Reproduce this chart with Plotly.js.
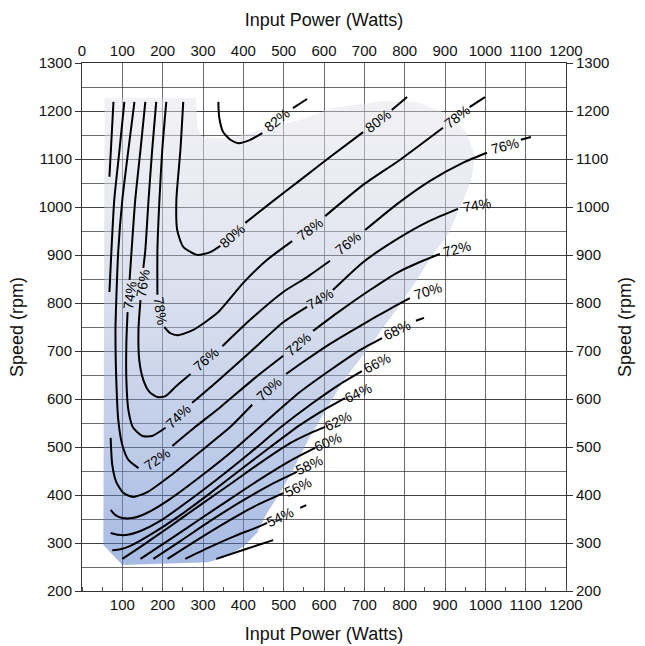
<!DOCTYPE html>
<html><head><meta charset="utf-8">
<script src="https://cdn.plot.ly/plotly-3.0.1.min.js"></script>
<style>html,body{margin:0;padding:0;background:#fff}#chart{width:645px;height:646px}</style>
</head><body><div id="chart"></div>
<script>
// Tick labels
const xTicksTop = [0,100,200,300,400,500,600,700,800,900,1000,1100,1200];
const xTicksBottom = [100,200,300,400,500,600,700,800,900,1000,1100,1200];
const yTicks = [200,300,400,500,600,700,800,900,1000,1100,1200,1300];

// Shaded operating region (Watts, rpm)
const shadeX = [56,283,286,296,360,447,541,622,746,830,912,952,974,966,942,907,867,830,788,746,707,647,598,561,523,491,459,434,400,350,311,100,53];
const shadeY = [1227,1227,1167,1146,1142,1160,1181,1206,1221,1219,1192,1156,1108,1060,1008,942,898,848,796,748,702,637,567,515,452,404,363,321,292,269,260,254,296];

// Efficiency contour lines (Watts, rpm); null = gap for a label
const c82X = [338,340,350,368,387,417,447,null,523,558];
const c82Y = [1219,1188,1156,1140,1133,1140,1154,null,1206,1225];
const c80X = [251,244,234,236,251,286,318,343,null,405,467,541,615,697,null,768,806];
const c80Y = [1219,1119,1015,952,917,900,906,919,null,967,1008,1056,1104,1156,null,1202,1229];
const c78X = [209,199,192,187,187,null,204,219,238,276,335,400,459,521,null,603,697,788,895,null,961,999];
const c78Y = [1219,1119,1015,910,817,null,750,737,733,744,779,842,890,929,null,981,1046,1098,1165,null,1208,1229];
const c76X = [184,174,165,157,152,null,145,140,142,152,167,187,207,234,269,null,348,417,499,558,615,null,702,781,862,944,1004,null,1088,1113];
const c76Y = [1219,1119,1015,910,873,null,806,744,681,640,615,604,606,627,652,null,710,765,823,854,888,null,952,1006,1054,1092,1113,null,1140,1146];
const c74X = [157,145,132,123,118,null,113,110,110,115,127,150,174,207,null,273,330,417,499,558,null,622,697,781,862,932];
const c74Y = [1219,1119,1015,910,848,null,781,717,640,577,540,523,523,540,null,592,633,698,760,792,null,827,885,933,971,996];
const c72X = [130,115,100,90,85,83,85,90,100,115,140,null,224,281,343,429,499,null,573,632,714,781,845,887];
const c72Y = [1219,1119,1015,910,806,744,640,556,504,473,456,null,502,542,583,644,690,null,742,779,827,863,888,902];
const c70X = [105,93,80,73,68,null,71,75,85,103,127,162,219,293,368,422,null,506,541,615,689,764,813];
const c70Y = [1219,1119,1015,910,823,null,519,463,427,404,396,406,440,490,542,588,null,652,673,715,752,788,810];
const c68X = [78,73,68,null,71,83,100,125,162,219,293,368,429,491,541,615,689,744,null,828,848];
const c68Y = [1219,1140,1063,null,369,358,352,352,363,392,438,488,533,579,615,660,702,727,null,763,769];
const c66X = [71,90,113,145,194,268,343,417,491,566,640,694];
const c66Y = [321,317,317,325,346,390,438,488,540,588,631,658];
const c64X = [75,95,120,177,244,318,392,467,541,603,652];
const c64Y = [285,287,294,321,358,404,452,500,546,579,602];
const c62X = [100,145,219,293,368,442,516,566,603];
const c62Y = [267,292,335,379,423,467,508,529,542];
const c60X = [145,219,293,368,442,516,578];
const c60Y = [267,308,350,392,433,471,498];
const c58X = [177,244,318,392,467,533];
const c58Y = [267,304,346,385,421,448];
const c56X = [212,281,355,429,499];
const c56Y = [267,304,342,377,404];
const c54X = [256,318,380,429,459,null,541,556];
const c54Y = [267,292,315,331,342,null,373,379];
const c52X = [333,405,474];
const c52Y = [267,287,306];

// Contour labels
const labelText = ['82%','80%','80%','78%','78%','78%','76%','76%','76%','76%','74%','74%','74%','74%','72%','72%','72%','70%','70%','68%','66%','64%','62%','60%','58%','56%','54%'];
const labelX = [484,372,734,194,566,929,150,308,660,1048,118,239,590,979,187,536,929,464,858,781,731,684,635,610,563,536,491];
const labelY = [1181,940,1179,783,954,1188,840,683,925,1127,815,565,808,1004,475,715,913,621,825,744,675,613,554,510,463,417,354];
const labelAngle = [-39,-42,-37,82,-37,-38,-82,-41,-38,-15,-82,-43,-30,-10,-35,-40,-15,-42,-17,-25,-27,-25,-25,-22,-25,-25,-25];

const contours = [[c82X,c82Y],[c80X,c80Y],[c78X,c78Y],[c76X,c76Y],[c74X,c74Y],[c72X,c72Y],[c70X,c70Y],[c68X,c68Y],[c66X,c66Y],[c64X,c64Y],[c62X,c62Y],[c60X,c60Y],[c58X,c58Y],[c56X,c56Y],[c54X,c54Y],[c52X,c52Y]];

const traces = [];
traces.push({
  x: shadeX, y: shadeY, type:'scatter', mode:'lines', fill:'toself',
  line:{width:0, color:'rgba(0,0,0,0)'},
  fillgradient:{type:'vertical', start:254, stop:1229,
    colorscale:[[0,'rgba(77,117,197,0.5)'],[0.25,'rgba(125,153,211,0.5)'],[0.51,'rgba(171,185,219,0.5)'],[0.77,'rgba(209,213,229,0.5)'],[1,'rgba(229,229,235,0.5)']]},
  hoverinfo:'skip', showlegend:false
});
contours.forEach(c => traces.push({
  x:c[0], y:c[1], type:'scatter', mode:'lines', connectgaps:false,
  line:{color:'#000', width:2, shape:'spline', smoothing:0.6},
  hoverinfo:'skip', showlegend:false
}));
// invisible carrier for the mirrored axes
traces.push({x:shadeX, y:shadeY, xaxis:'x2', yaxis:'y2', type:'scatter', mode:'lines', opacity:0, line:{width:0}, hoverinfo:'skip', showlegend:false});

const annotations = labelText.map((t,i)=>({
  x:labelX[i], y:labelY[i], xref:'x', yref:'y', text:t, showarrow:false,
  textangle:labelAngle[i], font:{size:14, color:'#000', family:'Liberation Sans, Arial, sans-serif'}
}));

const gridColor = 'rgba(45,45,45,0.7)';
const tickFont = {size:15, color:'#111'};
const titleFont = {size:18, color:'#111'};
const layout = {
  width:645, height:646,
  margin:{l:82, r:79, t:63, b:55},
  paper_bgcolor:'#fff', plot_bgcolor:'#fff',
  font:{family:'Liberation Sans, Arial, sans-serif', size:15, color:'#111'},
  showlegend:false,
  xaxis:{range:[0,1200], tickmode:'array', tickvals:xTicksBottom, showgrid:true, gridcolor:gridColor, gridwidth:1,
    zeroline:false, showline:true, linecolor:'#333', linewidth:1, ticks:'', tickfont:tickFont,
    minor:{dtick:50, tick0:0, ticks:'inside', ticklen:4, tickcolor:'#555', showgrid:false},
    title:{text:'Input Power (Watts)', font:titleFont, standoff:15}},
  xaxis2:{overlaying:'x', side:'top', range:[0,1200], tickmode:'array', tickvals:xTicksTop, showgrid:false,
    zeroline:false, showline:true, linecolor:'#333', linewidth:1, ticks:'', tickfont:tickFont,
    title:{text:'Input Power (Watts)', font:titleFont, standoff:10}},
  yaxis:{range:[200,1300], tickmode:'array', tickvals:yTicks, showgrid:true, gridcolor:gridColor, gridwidth:1,
    zeroline:false, showline:true, linecolor:'#333', linewidth:1, ticks:'outside', ticklen:6, tickcolor:'#333', tickfont:tickFont,
    minor:{dtick:50, tick0:200, showgrid:true, gridcolor:gridColor, gridwidth:1, ticks:''},
    title:{text:'Speed (rpm)', font:titleFont, standoff:10}},
  yaxis2:{overlaying:'y', side:'right', range:[200,1300], tickmode:'array', tickvals:yTicks, showgrid:false,
    zeroline:false, showline:true, linecolor:'#333', linewidth:1, ticks:'outside', ticklen:6, tickcolor:'#333', tickfont:tickFont,
    title:{text:'Speed (rpm)', font:titleFont, standoff:10}},
  annotations: annotations
};
Plotly.newPlot('chart', traces, layout, {displayModeBar:false, staticPlot:true});
</script></body></html>
